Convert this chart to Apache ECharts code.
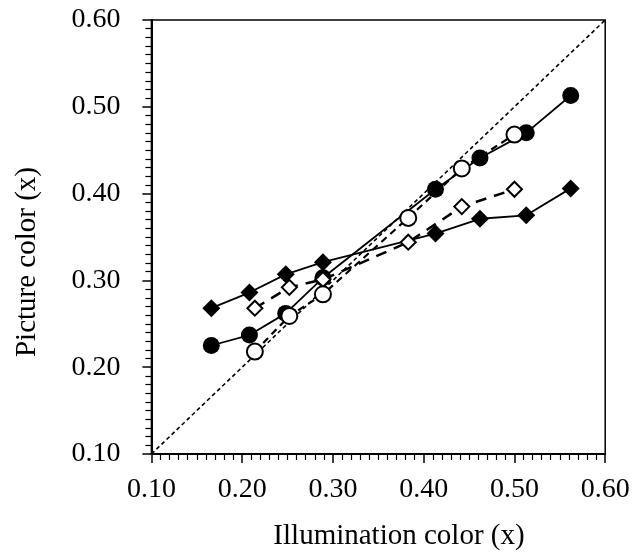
<!DOCTYPE html>
<html>
<head>
<meta charset="utf-8">
<script src="https://cdn.jsdelivr.net/npm/echarts@6/dist/echarts.min.js"></script>
<style>html,body{margin:0;padding:0;background:#fff;}#chart{width:633px;height:555px;}</style>
</head>
<body>
<div id="chart"></div>
<script>
// Data (CIE x chromaticity)
var filledX = [0.166, 0.208, 0.248, 0.289, 0.413, 0.462, 0.513, 0.562];
var filledDiamondY = [0.268, 0.286, 0.307, 0.321, 0.354, 0.371, 0.375, 0.406];
var filledCircleY  = [0.225, 0.237, 0.262, 0.303, 0.405, 0.441, 0.470, 0.513];
var openX = [0.214, 0.252, 0.289, 0.383, 0.442, 0.500];
var openDiamondY = [0.268, 0.292, 0.301, 0.344, 0.385, 0.405];
var openCircleY  = [0.218, 0.259, 0.284, 0.372, 0.429, 0.468];
var diagonal = [0.10, 0.60];
var tickLabels = ['0.10', '0.20', '0.30', '0.40', '0.50', '0.60'];

function pairs(xs, ys) { return xs.map(function (x, i) { return [x, ys[i]]; }); }
function fmt(v) { return tickLabels[Math.round((v - 0.1) / 0.1)] || ''; }

var font = 'Liberation Serif';
var axisCommon = {
  type: 'value', min: 0.1, max: 0.6, interval: 0.1,
  axisLine: { show: true, lineStyle: { color: '#000', width: 2 } },
  axisTick: { show: true, inside: false, length: 9, lineStyle: { color: '#000', width: 1.5 } },
  minorTick: { show: true, splitNumber: 10, length: 6, lineStyle: { color: '#000', width: 1.2 } },
  splitLine: { show: false },
  minorSplitLine: { show: false },
  axisLabel: { color: '#000', fontFamily: font, fontSize: 28, formatter: fmt }
};

var chart = echarts.init(document.getElementById('chart'), null, { renderer: 'canvas' });
chart.setOption({
  animation: false,
  backgroundColor: '#fff',
  grid: { left: 151.4, right: 27.8, top: 20, bottom: 101, show: true, borderColor: '#000', borderWidth: 1.5, backgroundColor: 'transparent' },
  xAxis: Object.assign({}, axisCommon, { axisLabel: Object.assign({}, axisCommon.axisLabel, { margin: 22 }) }),
  yAxis: Object.assign({}, axisCommon, { axisLabel: Object.assign({}, axisCommon.axisLabel, { margin: 31 }) }),
  graphic: [
    { type: 'text', x: 399, y: 522, style: { text: 'Illumination color (x)', font: '29px "Liberation Serif"', fill: '#000', align: 'center', verticalAlign: 'top' } },
    { type: 'text', x: 13, y: 262, rotation: Math.PI / 2, style: { text: 'Picture color (x)', font: '29px "Liberation Serif"', fill: '#000', align: 'center', verticalAlign: 'top' } }
  ],
  series: [
    { type: 'line', data: pairs(diagonal, diagonal), showSymbol: false, silent: true,
      lineStyle: { color: '#000', width: 1.6, type: [4, 3] }, z: 1 },
    { type: 'line', data: pairs(filledX, filledDiamondY), symbol: 'diamond', symbolSize: 18,
      itemStyle: { color: '#000' }, lineStyle: { color: '#000', width: 1.8 }, z: 2 },
    { type: 'line', data: pairs(filledX, filledCircleY), symbol: 'circle', symbolSize: 17,
      itemStyle: { color: '#000' }, lineStyle: { color: '#000', width: 1.8 }, z: 3 },
    { type: 'line', data: pairs(openX, openDiamondY), symbol: 'diamond', symbolSize: 15,
      itemStyle: { color: '#fff', borderColor: '#000', borderWidth: 2 }, lineStyle: { color: '#000', width: 2.5, type: [11, 8] }, z: 4 },
    { type: 'line', data: pairs(openX, openCircleY), symbol: 'circle', symbolSize: 16,
      itemStyle: { color: '#fff', borderColor: '#000', borderWidth: 2 }, lineStyle: { color: '#000', width: 2.2, type: [7, 5] }, z: 5 }
  ]
});
</script>
</body>
</html>
